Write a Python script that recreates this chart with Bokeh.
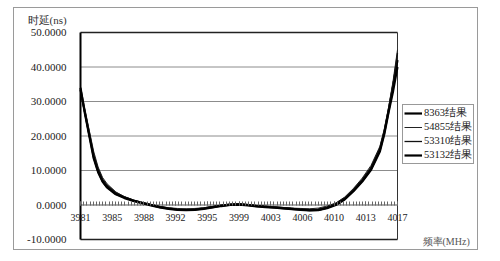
import numpy as np
from bokeh.plotting import figure
from bokeh.models import (Range1d, FixedTicker, Legend, LegendItem, Label,
                          PrintfTickFormatter)
from bokeh.embed import file_html
from bokeh.resources import INLINE

freq = [3981, 3981.5, 3982, 3982.5, 3983, 3983.5, 3984, 3985, 3986, 3987, 3988, 3989,
        3990, 3991, 3992, 3993, 3994, 3995, 3996, 3997, 3998, 3999, 4000, 4001, 4002,
        4003, 4004, 4005, 4006, 4007, 4008, 4009, 4010, 4011, 4012, 4013, 4014, 4015,
        4015.5, 4016, 4016.5, 4017]

r8363 = [33.5, 27.0, 20.5, 14.0, 9.8, 7.0, 5.3, 3.3, 2.2, 1.3, 0.6, 0.0, -0.6, -1.0,
         -1.3, -1.4, -1.3, -1.0, -0.6, -0.2, 0.1, 0.2, 0.0, -0.3, -0.5, -0.7, -0.9, -1.1,
         -1.3, -1.5, -1.4, -0.8, 0.2, 1.8, 4.2, 7.0, 10.5, 16.0, 21.0, 27.5, 34.5, 42.0]
r54855 = [32.5, 27.5, 21.5, 15.5, 11.0, 8.0, 6.2, 3.8, 2.4, 1.4, 0.8, 0.2, -0.4, -0.8,
          -1.0, -1.1, -1.0, -0.8, -0.4, 0.0, 0.3, 0.4, 0.2, -0.1, -0.3, -0.5, -0.7, -0.9,
          -1.0, -1.1, -0.9, -0.3, 0.6, 2.3, 4.8, 7.8, 11.5, 17.0, 22.0, 28.5, 36.0, 45.0]
r53310 = [33.0, 26.5, 20.0, 14.5, 10.5, 7.5, 5.8, 3.6, 2.3, 1.4, 0.7, 0.1, -0.5, -0.9,
          -1.2, -1.3, -1.2, -0.9, -0.5, -0.1, 0.2, 0.3, 0.1, -0.2, -0.4, -0.6, -0.8, -1.0,
          -1.2, -1.3, -1.2, -0.6, 0.4, 2.0, 4.5, 7.4, 11.0, 16.5, 21.5, 28.0, 35.0, 44.0]
r53132 = [34.0, 26.5, 20.0, 13.5, 9.5, 6.8, 5.1, 3.1, 2.0, 1.2, 0.5, -0.1, -0.7, -1.1,
          -1.4, -1.5, -1.4, -1.1, -0.7, -0.3, 0.0, 0.1, -0.1, -0.4, -0.6, -0.8, -1.0, -1.2,
          -1.4, -1.6, -1.5, -0.9, 0.0, 1.6, 4.0, 6.8, 10.2, 15.5, 20.5, 27.0, 33.0, 40.0]

series_names = ["8363结果", "54855结果", "53310结果", "53132结果"]
x_tick_labels = ["3981", "3985", "3988", "3992", "3995", "3999", "4003", "4006",
                 "4010", "4013", "4017"]
y_ticks = [-10, 0, 10, 20, 30, 40, 50]
y_title = "时延(ns)"
x_title = "频率(MHz)"

SERIF = "Liberation Serif"

# canvas geometry (px): the plot box sits inside a frame that covers the whole canvas
W, H = 465, 243
BOX_L, BOX_R, BOX_T, BOX_B = 66, 383, 24, 231
ymin, ymax = y_ticks[0], y_ticks[-1]
ppx = (BOX_R - BOX_L) / (freq[-1] - freq[0])
ppy = (BOX_B - BOX_T) / (ymax - ymin)
x0 = freq[0] - BOX_L / ppx
x1 = freq[-1] + (W - BOX_R) / ppx
y0 = ymin - (H - BOX_B) / ppy
y1 = ymax + BOX_T / ppy

p = figure(width=W, height=H, output_backend="svg", toolbar_location=None,
           x_range=Range1d(x0, x1), y_range=Range1d(y0, y1),
           min_border=0, min_border_left=0, min_border_right=0,
           min_border_top=0, min_border_bottom=0)
p.styles = {"border": "1px solid #9a9a9a", "margin-left": "13px", "margin-top": "7px"}
p.background_fill_color = "white"
p.border_fill_color = "white"
p.outline_line_color = None
p.xgrid.visible = False
p.ygrid.visible = False

# y axis labels, fixed at the left edge of the box
p.yaxis.ticker = FixedTicker(ticks=y_ticks)
p.yaxis.formatter = PrintfTickFormatter(format="%.4f")
p.yaxis.fixed_location = freq[0]
p.yaxis.major_tick_out = 0
p.yaxis.major_tick_in = 0
p.yaxis.minor_tick_out = 0
p.yaxis.minor_tick_in = 0
p.yaxis.axis_line_color = None
p.yaxis.major_label_standoff = 14
p.yaxis.major_label_text_font = SERIF
p.yaxis.major_label_text_font_size = "11px"
p.yaxis.major_label_text_color = "#222222"

# x axis crossing at y = 0
n = len(x_tick_labels)
xt = list(np.linspace(freq[0], freq[-1], n))
minor = list(np.linspace(freq[0], freq[-1], (n - 1) * 10 + 1))
p.xaxis.ticker = FixedTicker(ticks=xt, minor_ticks=minor)
p.xaxis.major_label_overrides = {float(t): lab for t, lab in zip(xt, x_tick_labels)}
p.xaxis.fixed_location = 0
p.xaxis.axis_line_color = None
p.xaxis.major_tick_in = 4
p.xaxis.major_tick_out = 0
p.xaxis.minor_tick_in = 4
p.xaxis.minor_tick_out = 0
p.xaxis.major_tick_line_color = "#666666"
p.xaxis.minor_tick_line_color = "#666666"
p.xaxis.major_label_standoff = 9
p.xaxis.major_label_text_font = SERIF
p.xaxis.major_label_text_font_size = "10px"
p.xaxis.major_label_text_color = "#222222"

# gridlines and box limited to the data span
grid_vals = [v for v in y_ticks if v not in (ymin, ymax, 0)]
p.segment(x0=[freq[0]] * len(grid_vals), x1=[freq[-1]] * len(grid_vals),
          y0=grid_vals, y1=grid_vals, line_color="#8c8c8c", line_width=1)
p.segment(x0=[freq[0]], x1=[freq[-1]], y0=[0], y1=[0], line_color="#555555", line_width=1)
p.segment(x0=[freq[0], freq[0]], x1=[freq[-1], freq[-1]], y0=[ymin, ymax], y1=[ymin, ymax],
          line_color="#222222", line_width=1.5)
p.segment(x0=[freq[-1]], x1=[freq[-1]], y0=[ymin], y1=[ymax], line_color="#333333", line_width=1)

styles = [("black", 2.2), ("#222222", 1.0), ("#111111", 1.3), ("black", 2.2)]
items = []
for name, ys, (c, w) in zip(series_names, [r8363, r54855, r53310, r53132], styles):
    r = p.line(freq, ys, line_color=c, line_width=w, line_join="round")
    items.append(LegendItem(label=name, renderers=[r]))

p.segment(x0=[freq[0]], x1=[freq[0]], y0=[ymin], y1=[ymax], line_color="black", line_width=2)

legend = Legend(items=items, location=(388, 87), orientation="vertical",
                label_text_font=SERIF, label_text_font_size="10.5px", label_text_color="#222222",
                label_height=12, glyph_height=12, glyph_width=18, label_standoff=2,
                spacing=0, padding=1, margin=0,
                border_line_color="#333333", border_line_width=1,
                background_fill_color="white", background_fill_alpha=1)
p.add_layout(legend, "center")

p.add_layout(Label(x=x0 + 13 / ppx, y=y1 - 11 / ppy, text=y_title,
                   text_font=SERIF, text_font_size="11px", text_color="#333333",
                   text_baseline="middle"))
p.add_layout(Label(x=x0 + 408 / ppx, y=y1 - 233 / ppy, text=x_title,
                   text_font=SERIF, text_font_size="10px", text_color="#555555",
                   text_baseline="middle"))

open("out.html", "w").write(file_html(p, INLINE))
